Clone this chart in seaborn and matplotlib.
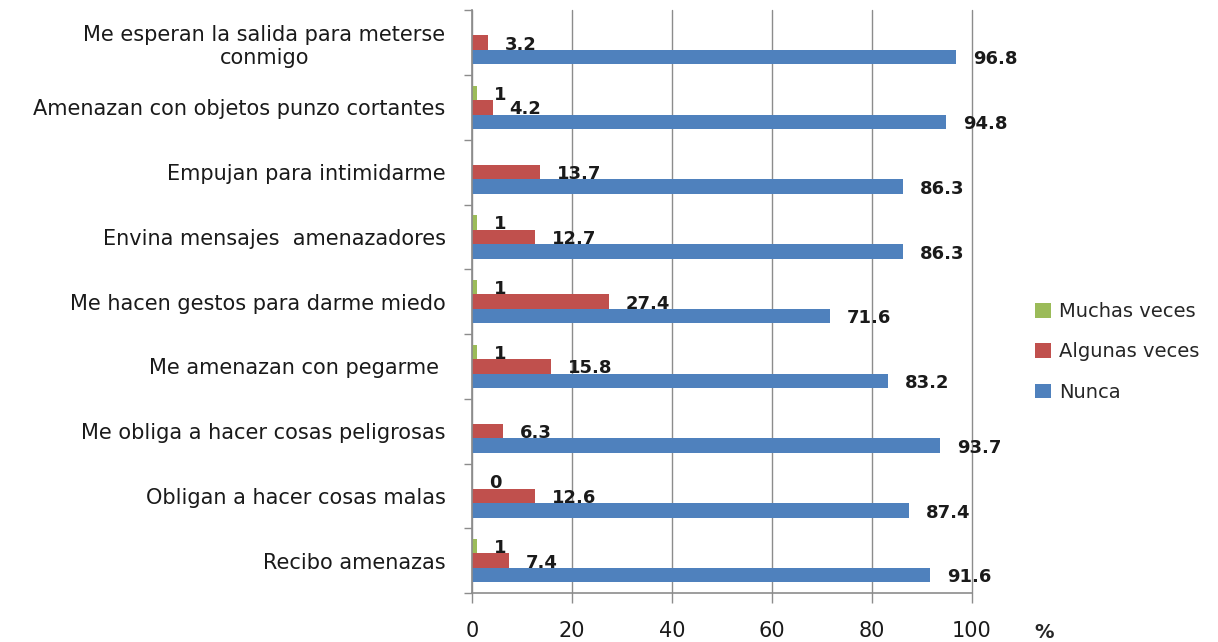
import pandas as pd
import matplotlib.pyplot as plt
import numpy as np
import seaborn as sns

# data (top to bottom as in the chart)
categorias = ["Me esperan la salida para meterse\nconmigo",
              "Amenazan con objetos punzo cortantes",
              "Empujan para intimidarme",
              "Envina mensajes  amenazadores",
              "Me hacen gestos para darme miedo",
              "Me amenazan con pegarme ",
              "Me obliga a hacer cosas peligrosas",
              "Obligan a hacer cosas malas",
              "Recibo amenazas"]
muchas = [np.nan, 1, np.nan, 1, 1, 1, np.nan, 0, 1]
algunas = [3.2, 4.2, 13.7, 12.7, 27.4, 15.8, 6.3, 12.6, 7.4]
nunca = [96.8, 94.8, 86.3, 86.3, 71.6, 83.2, 93.7, 87.4, 91.6]
series = ["Muchas veces", "Algunas veces", "Nunca"]
colores = ["#9BBB59", "#C0504D", "#4F81BD"]

df = pd.DataFrame({"Categoria": categorias,
                   "Muchas veces": muchas,
                   "Algunas veces": algunas,
                   "Nunca": nunca})
df_long = df.melt(id_vars="Categoria", var_name="Serie", value_name="Pct").dropna()

sns.set_style("white")
plt.rcParams['font.family'] = ['DejaVu Sans']

fig, ax = plt.subplots(figsize=(12.18, 6.42), dpi=100)
fig.subplots_adjust(left=0.3875, right=0.798, top=0.984, bottom=0.0763)

sns.barplot(data=df_long, y="Categoria", x="Pct", hue="Serie", order=categorias,
            hue_order=series, palette=colores, width=0.675, errorbar=None,
            linewidth=0, saturation=1, ax=ax)

# data labels (one container per series)
for cont in ax.containers:
    labs = ["%d" % b.get_width() if float(b.get_width()).is_integer()
            else "%.1f" % b.get_width() for b in cont]
    for b, txt in zip(cont, labs):
        ax.annotate(txt, (b.get_width(), b.get_y() + b.get_height() / 2),
                    xytext=(12, -1.5), textcoords="offset points",
                    ha="left", va="center", fontsize=13, fontweight="bold",
                    color="#1a1a1a")

ax.set_xlim(0, 100)
ax.set_xticks(range(0, 101, 20))
ax.set_xlabel("")
ax.set_ylabel("")
ax.grid(axis="x", color="#8c8c8c", linewidth=1)
for gl in ax.xaxis.get_gridlines():
    gl.set_clip_on(False)
ax.set_axisbelow(True)
for s in ["top", "right"]:
    ax.spines[s].set_visible(False)
for s in ["left", "bottom"]:
    ax.spines[s].set_color("#8c8c8c")
    ax.spines[s].set_linewidth(1.2)

ax.tick_params(axis="x", labelsize=15, length=7, width=1, color="#8c8c8c",
               pad=13, bottom=True, labelcolor="#1a1a1a")
ax.tick_params(axis="y", which="major", labelsize=15, length=0, pad=19,
               labelcolor="#1a1a1a")
ax.set_yticks(np.arange(-0.5, len(categorias), 1), minor=True)
ax.tick_params(axis="y", which="minor", length=6, width=1, color="#8c8c8c", left=True)
for lab in ax.get_yticklabels():
    lab.set_multialignment("center")

ax.text(1.145, -0.068, "%", transform=ax.transAxes, fontsize=14,
        fontweight="bold", ha="center", va="center")

handles, labels = ax.get_legend_handles_labels()
ax.legend_.remove()
fig.legend(handles, labels, loc="center left", bbox_to_anchor=(0.85, 0.452),
           frameon=False, fontsize=14, handlelength=0.8, handleheight=0.8,
           handletextpad=0.4, labelspacing=1.1, borderaxespad=0, borderpad=0)

fig.savefig("out.png", dpi=100)
